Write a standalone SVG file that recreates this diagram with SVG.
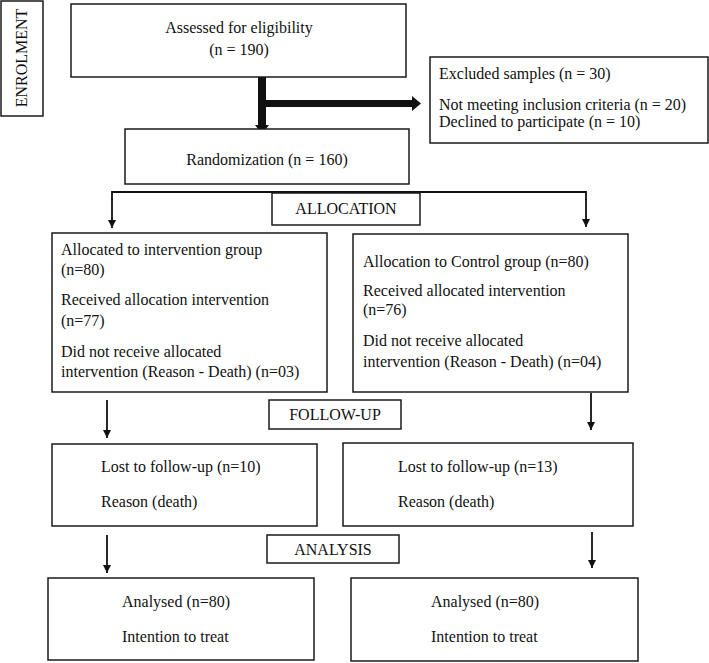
<svg xmlns="http://www.w3.org/2000/svg" width="709" height="663" viewBox="0 0 709 663">
<style>
  .box { fill: #ffffff; stroke: #1a1a1a; stroke-width: 1.5; }
  .t { font-family: 'Liberation Serif', 'Tinos', 'DejaVu Serif', serif; font-size: 16px; fill: #111111; }
  .c { text-anchor: middle; }
  .conn { stroke: #111111; stroke-width: 1.8; fill: none; }
  .thick { fill: #111111; stroke: none; }
</style>
<defs>
  <marker id="ah" markerUnits="userSpaceOnUse" markerWidth="8" markerHeight="8" refX="8" refY="4" orient="auto">
    <path d="M0,0 L8,4 L0,8 z" fill="#111111"/>
  </marker>
</defs>
<rect width="709" height="663" fill="#ffffff"/>

<g id="connectors">
  <polygon class="thick" points="258,77 266,77 266,125 269,125 262,134 255,125 258,125"/>
  <polygon class="thick" points="265,100 412,100 412,96 421,103.5 412,111 412,107 265,107"/>
  <polyline class="conn" points="112,200 112,192 586,192 586,200"/>
  <line class="conn" x1="112" y1="199" x2="112" y2="228" marker-end="url(#ah)"/>
  <line class="conn" x1="586" y1="199" x2="586" y2="227" marker-end="url(#ah)"/>
  <line class="conn" x1="107" y1="400" x2="107" y2="438" marker-end="url(#ah)"/>
  <line class="conn" x1="591" y1="393" x2="591" y2="430" marker-end="url(#ah)"/>
  <line class="conn" x1="107" y1="535" x2="107" y2="573" marker-end="url(#ah)"/>
  <line class="conn" x1="592" y1="532" x2="592" y2="568" marker-end="url(#ah)"/>
</g>

<g class="t" font-family="Liberation Serif, serif">
<g id="enrolment">
  <rect class="box" x="1" y="1" width="42" height="115"/>
  <text class="c" transform="translate(27,58) rotate(-90)">ENROLMENT</text>
</g>

<g id="assessed">
  <rect class="box" x="71" y="4" width="335" height="73"/>
  <text class="c" x="239" y="33">Assessed for eligibility</text>
  <text class="c" x="239" y="55">(n = 190)</text>
</g>

<g id="excluded">
  <rect class="box" x="430" y="57" width="278" height="86"/>
  <text x="439" y="79">Excluded samples (n = 30)</text>
  <text x="439" y="110">Not meeting inclusion criteria (n = 20)</text>
  <text x="439" y="127">Declined to participate (n = 10)</text>
</g>

<g id="randomization">
  <rect class="box" x="125" y="129" width="284" height="55"/>
  <text class="c" x="267" y="165">Randomization (n = 160)</text>
</g>

<g id="allocation">
  <rect class="box" x="272" y="193" width="148" height="32"/>
  <text class="c" x="346" y="214">ALLOCATION</text>
</g>

<g id="intervention">
  <rect class="box" x="52" y="233" width="275" height="159"/>
  <text x="61" y="255">Allocated to intervention group</text>
  <text x="61" y="275">(n=80)</text>
  <text x="61" y="305">Received allocation intervention</text>
  <text x="61" y="326">(n=77)</text>
  <text x="61" y="357">Did not receive allocated</text>
  <text x="61" y="377">intervention (Reason - Death) (n=03)</text>
</g>

<g id="control">
  <rect class="box" x="353" y="234" width="275" height="158"/>
  <text x="363" y="267">Allocation to Control group (n=80)</text>
  <text x="363" y="296">Received allocated intervention</text>
  <text x="363" y="315">(n=76)</text>
  <text x="363" y="346">Did not receive allocated</text>
  <text x="363" y="367">intervention (Reason - Death) (n=04)</text>
</g>

<g id="followup">
  <rect class="box" x="269" y="400" width="132" height="29"/>
  <text class="c" x="335" y="420">FOLLOW-UP</text>
</g>

<g id="lost-left">
  <rect class="box" x="52" y="444" width="265" height="82"/>
  <text x="101" y="472">Lost to follow-up (n=10)</text>
  <text x="101" y="507">Reason (death)</text>
</g>

<g id="lost-right">
  <rect class="box" x="343" y="443" width="290" height="83"/>
  <text x="398" y="472">Lost to follow-up (n=13)</text>
  <text x="398" y="507">Reason (death)</text>
</g>

<g id="analysis">
  <rect class="box" x="267" y="535" width="132" height="28"/>
  <text class="c" x="333" y="555">ANALYSIS</text>
</g>

<g id="analysed-left">
  <rect class="box" x="48" y="578" width="266" height="82"/>
  <text x="122" y="607">Analysed (n=80)</text>
  <text x="122" y="642">Intention to treat</text>
</g>

<g id="analysed-right">
  <rect class="box" x="351" y="578" width="287" height="83"/>
  <text x="431" y="607">Analysed (n=80)</text>
  <text x="431" y="642">Intention to treat</text>
</g>
</g>
</svg>
